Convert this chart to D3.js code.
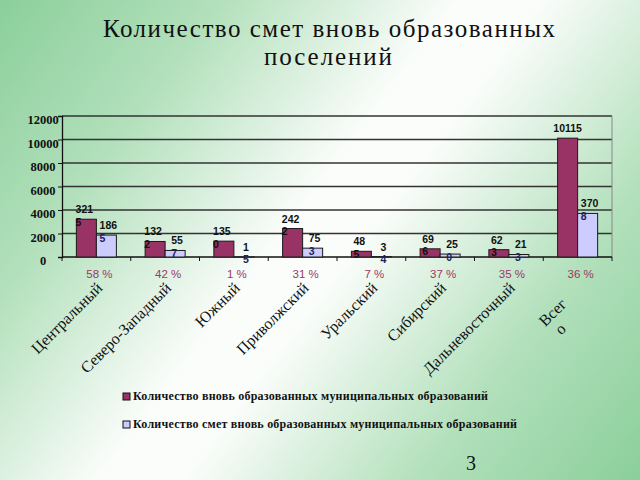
<!DOCTYPE html>
<html><head><meta charset="utf-8">
<script src="https://cdn.jsdelivr.net/npm/d3@7"></script>
<style>html,body{margin:0;padding:0;overflow:hidden;}svg{display:block;}</style>
</head><body>
<script>
const categories = ["Центральный","Северо-Западный","Южный","Приволжский","Уральский","Сибирский","Дальневосточный","Всего"];
const seriesNames = ["Количество вновь образованных муниципальных образований","Количество смет вновь образованных муниципальных образований"];
const newMunicipal = [3215,1322,1350,2422,485,696,623,10115];
const estimates = [1865,557,15,753,34,250,213,3708];
const percents = ["58 %","42 %","1 %","31 %","7 %","37 %","35 %","36 %"];
const yTicks = [0,2000,4000,6000,8000,10000,12000];
const colors = ["#993366","#ccccff"];

const W=640,H=480;
const serif="Liberation Serif, 'Times New Roman', serif";
const sans="Liberation Sans, Arial, sans-serif";
const svg=d3.select("body").append("svg").attr("width",W).attr("height",H);
const defs=svg.append("defs");
const g=defs.append("linearGradient").attr("id","bg").attr("gradientUnits","userSpaceOnUse")
  .attr("x1",0).attr("y1",0).attr("x2",W).attr("y2",H);
[[0,"#8bcf9b"],[0.22,"#b2e0bb"],[0.46,"#fbfdfb"],[0.54,"#fbfdfb"],[0.78,"#b2e0bb"],[1,"#8bcf9b"]]
  .forEach(s=>g.append("stop").attr("offset",s[0]).attr("stop-color",s[1]));
svg.append("rect").attr("width",W).attr("height",H).attr("fill","url(#bg)");

// title
svg.append("text").attr("text-anchor","middle").attr("font-family",serif).attr("font-size",25).attr("fill","#111")
  .attr("x",329).attr("y",37).attr("textLength",452).attr("lengthAdjust","spacing").text("Количество смет вновь образованных");
svg.append("text").attr("text-anchor","middle").attr("font-family",serif).attr("font-size",25).attr("fill","#111")
  .attr("x",328).attr("y",65).attr("textLength",128).attr("lengthAdjust","spacing").text("поселений");

const x=d3.scaleBand().domain(categories).range([62,612]).paddingInner(0.418).paddingOuter(0.209);
const x1=d3.scaleBand().domain([0,1]).range([0,x.bandwidth()]);
const y=d3.scaleLinear().domain([0,12000]).range([257,116]);

// gridlines
svg.append("g").selectAll("line").data(yTicks.filter(d=>d>0)).join("line")
  .attr("x1",62).attr("x2",612).attr("y1",d=>y(d)).attr("y2",d=>y(d))
  .attr("stroke","#333").attr("stroke-width",1.3);
svg.append("line").attr("x1",612).attr("x2",612).attr("y1",y(12000)).attr("y2",y(0)).attr("stroke","#888").attr("stroke-width",1);

// left axis
const ya=svg.append("g").attr("transform","translate(62,0)").call(d3.axisLeft(y).tickValues(yTicks).tickSize(4).tickFormat(d3.format("d")));
ya.attr("font-family",serif);
ya.select(".domain").attr("stroke","#111").attr("stroke-width",1.3);
ya.selectAll(".tick line").attr("stroke","#111");
ya.selectAll(".tick text").attr("text-anchor","middle").attr("x",-19).attr("dy","0.62em")
  .attr("font-family",serif).attr("font-size",12.5).attr("font-weight","bold").attr("fill","#111");

// bottom axis line & ticks at category boundaries
svg.append("line").attr("x1",62).attr("x2",612).attr("y1",y(0)).attr("y2",y(0)).attr("stroke","#111").attr("stroke-width",1.3);
const step=x.step();
svg.append("g").selectAll("line").data(d3.range(categories.length+1)).join("line")
  .attr("x1",i=>62+i*step).attr("x2",i=>62+i*step).attr("y1",y(0)).attr("y2",y(0)+4).attr("stroke","#111");

// bars
const series=[newMunicipal,estimates];
const bars=[];
series.forEach((vals,s)=>{
  vals.forEach((v,i)=>bars.push({s,v,c:categories[i]}));
});
svg.append("g").selectAll("rect").data(bars).join("rect")
  .attr("x",d=>x(d.c)+x1(d.s)).attr("width",x1.bandwidth())
  .attr("y",d=>y(d.v)).attr("height",d=>y(0)-y(d.v))
  .attr("fill",d=>colors[d.s]).attr("stroke","#1a1a1a").attr("stroke-width",1);

// value labels (wrapped like the original)
const lab=svg.append("g").attr("font-family",sans).attr("font-size",10.5).attr("font-weight","bold").attr("fill","#111");
bars.forEach(d=>{
  const s=String(d.v);
  const bx=x(d.c)+x1(d.s), bw=x1.bandwidth(), top=y(d.v);
  if(s.length>=5){
    lab.append("text").attr("x",bx+bw/2).attr("y",top-6).attr("text-anchor","middle").text(s);
  } else {
    const a=s.slice(0,s.length-1), b=s.slice(s.length-1);
    const t=lab.append("text").attr("y",top-6).text(a);
    const w=t.node().getComputedTextLength();
    const lx=bx+bw/2-w/2+ (d.s===1?2:-2);
    t.attr("x",lx);
    lab.append("text").attr("x",lx).attr("y",top+6.5).attr("fill",d.s===1?"#222255":"#111").text(b);
  }
});

// percent labels
svg.append("g").selectAll("text").data(percents).join("text")
  .attr("x",(d,i)=>x(categories[i])+x.bandwidth()/2+3).attr("y",278).attr("text-anchor","middle")
  .attr("font-family",sans).attr("font-size",11.5).attr("fill","#9e3766").text(d=>d);

// category labels rotated
const cl=svg.append("g").attr("font-family",serif).attr("font-size",16).attr("fill","#111");
categories.forEach((c,i)=>{
  const cx=x(c)+x.bandwidth()/2+7;
  if(c==="Всего"){
    const t=cl.append("text").attr("transform",`translate(${cx-17},${305}) rotate(-45)`).attr("text-anchor","end");
    t.append("tspan").attr("x",0).attr("y",0).text("Всег");
    t.append("tspan").attr("x",-22).attr("y",17).attr("text-anchor","middle").text("о");
  } else {
    cl.append("text").attr("transform",`translate(${cx},${289}) rotate(-45)`).attr("text-anchor","end").text(c);
  }
});

// legend
const lg=svg.append("g").attr("font-family",serif).attr("font-size",12).attr("font-weight","bold").attr("fill","#111");
seriesNames.forEach((n,i)=>{
  const yy=400+i*28;
  lg.append("rect").attr("x",123).attr("y",yy-7).attr("width",7).attr("height",7).attr("fill",colors[i]).attr("stroke","#111").attr("stroke-width",1);
  lg.append("text").attr("x",133).attr("y",yy).attr("textLength",i===0?355:384).attr("lengthAdjust","spacing").text(n);
});

// page number
svg.append("text").attr("x",471).attr("y",470).attr("text-anchor","middle").attr("font-family",serif)
  .attr("font-size",20).attr("fill","#111").text("3");
</script>
</body></html>
